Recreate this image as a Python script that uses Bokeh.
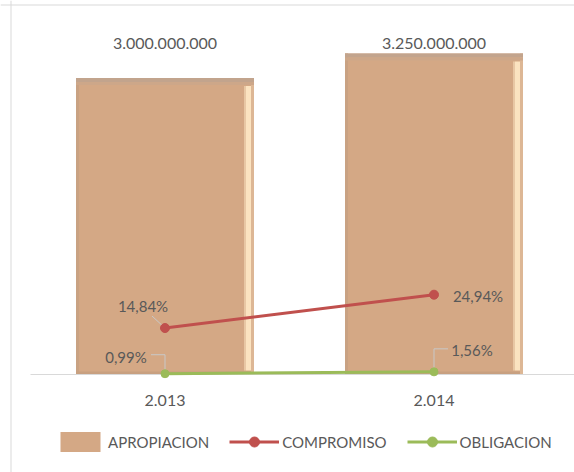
from bokeh.plotting import figure
from bokeh.models import Range1d, Span, Legend, LegendItem, ColumnDataSource
from bokeh.core.properties import value
from bokeh.embed import file_html
from bokeh.resources import INLINE

# ---------------- data ----------------
years = ["2.013", "2.014"]
apropiacion = [3000000000, 3250000000]
compromiso = [14.84, 24.94]
obligacion = [0.99, 1.56]

# ---------------- layout constants (pixels) ----------------
W, H = 574, 472
PX_X = 269.0          # px per category slot
X0_PX = 30.0          # canvas x of category axis start
PX_Y = 98.8e-9        # px per peso
BASE_FY = 374.0       # canvas y of baseline
PCT_PX = 3.3          # px per percent point
PCT0_FY = 376.5       # canvas y of 0 %

def dx(px):
    return px / PX_X

def dy(px):
    return px / PX_Y

def dp(px):
    return px / PCT_PX

FONT = value("Lato")
TXT = "#595959"
BAR = "#D4A885"

xs = [i + 0.5 for i in range(len(years))]

x_range = Range1d(-X0_PX / PX_X, (W - X0_PX) / PX_X)
y_range = Range1d(-(H - BASE_FY) / PX_Y, BASE_FY / PX_Y)

p = figure(width=W, height=H, x_range=x_range, y_range=y_range,
           x_axis_location=None, y_axis_location=None,
           toolbar_location=None, output_backend="svg",
           min_border=0, outline_line_color=None,
           background_fill_color="white", border_fill_color="white")
p.xgrid.visible = False
p.ygrid.visible = False
p.extra_y_ranges = {"pct": Range1d(-(H - PCT0_FY) / PCT_PX, PCT0_FY / PCT_PX)}

# ---------------- bars with bevel ----------------
bw = dx(178)
left = [x - bw / 2 for x in xs]
right = [x + bw / 2 for x in xs]
bars = p.vbar(x=xs, top=apropiacion, bottom=0, width=bw,
              fill_color=BAR, line_color=None)
# left edge shade
p.quad(left=left, right=[l + dx(3) for l in left], bottom=0, top=apropiacion,
       fill_color="#C9A283", line_color=None)
# bottom edge shade
p.quad(left=left, right=right, bottom=0, top=dy(3),
       fill_color="#C8A080", line_color=None)
# right highlight
p.quad(left=[r - dx(10) for r in right], right=[r - dx(8) for r in right],
       bottom=dy(4), top=[v - dy(8) for v in apropiacion],
       fill_color="#E8C7A4", line_color=None)
p.quad(left=[r - dx(8) for r in right], right=[r - dx(3) for r in right],
       bottom=dy(4), top=[v - dy(8) for v in apropiacion],
       fill_color="#FBE3C0", line_color=None)
p.quad(left=[r - dx(3) for r in right], right=right,
       bottom=0, top=apropiacion, fill_color="#DDB795", line_color=None)
# top edge shade (soft)
p.quad(left=left, right=right, bottom=[v - dy(4) for v in apropiacion],
       top=apropiacion, fill_color="#C2A48D", line_color=None)
p.quad(left=left, right=right, bottom=[v - dy(7) for v in apropiacion],
       top=[v - dy(4) for v in apropiacion], fill_color="#CDA789", line_color=None)

# axis line
p.segment(x0=[0], x1=[x_range.end], y0=[0], y1=[0], line_color="#D9D9D9", line_width=1)

# chart border (left / top)
p.add_layout(Span(location=x_range.start + dx(10.5), dimension="height",
                  line_color="#D9D9D9", line_width=1))
p.add_layout(Span(location=y_range.end - dy(4.5), dimension="width",
                  line_color="#D9D9D9", line_width=1))

# ---------------- leader lines ----------------
lead_x = [
    [xs[0], xs[0] + dx(-13)],
    [xs[0] + dx(-14), xs[0], xs[0]],
    [xs[1], xs[1], xs[1] + dx(14)],
]
lead_y = [
    [compromiso[0], compromiso[0] + dp(12)],
    [obligacion[0] + dp(19), obligacion[0] + dp(19), obligacion[0]],
    [obligacion[1], obligacion[1] + dp(23), obligacion[1] + dp(23)],
]
p.multi_line(xs=lead_x, ys=lead_y, line_color="#C8C8C8", line_width=1,
             y_range_name="pct")

# ---------------- lines ----------------
RED = "#C0504D"
GREEN = "#9BBB59"
l1 = p.line(xs, compromiso, y_range_name="pct", line_color=RED, line_width=3)
m1 = p.scatter(xs, compromiso, y_range_name="pct", size=9,
               fill_color=RED, line_color=RED)
l2 = p.line(xs, obligacion, y_range_name="pct", line_color=GREEN, line_width=3)
m2 = p.scatter(xs, obligacion, y_range_name="pct", size=8,
               fill_color=GREEN, line_color=GREEN)

# ---------------- labels ----------------
def fmt_money(v):
    return f"{v:,.0f}".replace(",", ".")

def fmt_pct(v):
    return f"{v:.2f}".replace(".", ",") + "%"

p.text(x=xs, y=[dy(BASE_FY - 43)] * len(xs), text=[fmt_money(v) for v in apropiacion],
       text_font=FONT, text_font_size="16px", text_color=TXT,
       text_align="center", text_baseline="middle")

pct_src = ColumnDataSource(dict(
    x=xs + xs,
    y=compromiso + obligacion,
    t=[fmt_pct(v) for v in compromiso + obligacion],
    xo=[-22, 44, -39, 38],
    yo=[-22, 1, -17, -22],
))
p.text(x="x", y="y", text="t", x_offset="xo", y_offset="yo", source=pct_src,
       y_range_name="pct", text_font=FONT, text_font_size="15px",
       text_color=TXT, text_align="center", text_baseline="middle")

p.text(x=xs, y=[dy(-26)] * len(xs), text=years,
       text_font=FONT, text_font_size="16px", text_color=TXT,
       text_align="center", text_baseline="middle")

# ---------------- legend ----------------
legend = Legend(items=[
    LegendItem(label="APROPIACION", renderers=[bars]),
    LegendItem(label="COMPROMISO", renderers=[l1, m1]),
    LegendItem(label="OBLIGACION", renderers=[l2, m2]),
], orientation="horizontal", location=(55, 18),
    glyph_width=50, glyph_height=25, label_standoff=3, spacing=20,
    padding=0, margin=0, border_line_color=None, background_fill_alpha=0,
    label_text_font="Lato", label_text_font_size="15px", label_text_color=TXT)
p.add_layout(legend)

open("out.html", "w").write(file_html(p, INLINE))
